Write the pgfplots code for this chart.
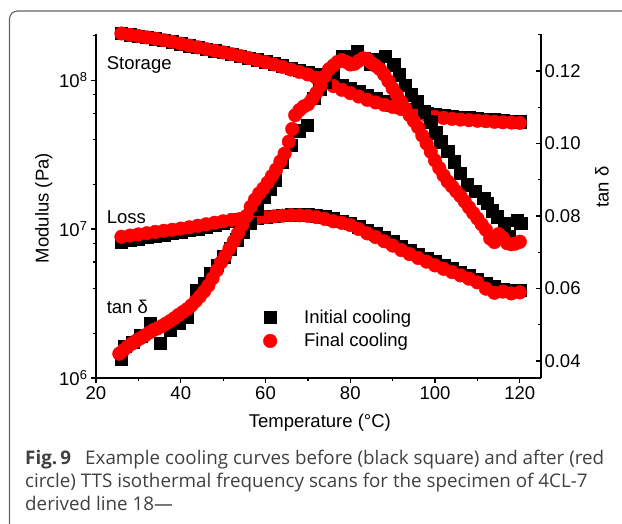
\documentclass[border=0pt]{standalone}
\usepackage{pgfplots}
\pgfplotsset{compat=1.18}
\usepackage{fontspec}
\setmainfont{Liberation Sans}
\newfontfamily\capfont{Open Sans}
\newcommand\fs{\fontsize{18.5}{22}\selectfont}
\definecolor{ptred}{RGB}{255,0,0}
\definecolor{framegray}{RGB}{100,100,100}
\definecolor{capgray}{RGB}{64,64,64}
\begin{document}
\begin{tikzpicture}[x=1pt,y=1pt]
\useasboundingbox (0,0) rectangle (622,523);
\draw[framegray, line width=1.1pt, rounded corners=8pt] (9.5,-5) -- (9.5,512) -- (630,512);
\begin{axis}[
  at={(96pt,145pt)}, anchor=south west,
  width=445pt, height=344pt, scale only axis,
  clip=false,
  xmin=20, xmax=125,
  ymode=log, ymin=1e6, ymax=2.04e8,
  axis x line*=bottom, axis y line*=left,
  axis line style={-, line width=1.2pt},
  tick align=outside,
  major tick length=5pt, minor tick length=3pt,
  every tick/.style={line width=1.2pt, black},
  xtick={20,40,60,80,100,120},
  minor xtick={30,50,70,90,110},
  ytick={1e6,1e7,1e8},
  yticklabels={10\textsuperscript{6},10\textsuperscript{7},10\textsuperscript{8}},
  minor ytick={2e6,4e6,6e6,8e6,2e7,4e7,6e7,8e7,2e8},
  tick label style={font=\fs},
  xticklabel style={/pgf/number format/assume math mode=true},
  label style={font=\fs},
  xlabel={Temperature (°C)},
  ylabel={Modulus (Pa)},
  xlabel style={at={(axis description cs:0.503,-0.145)}, anchor=base},
  ylabel style={at={(axis description cs:-0.117,0.494)}, anchor=center},
  legend style={draw=none, fill=none, at={(axis description cs:0.373,0.1424)}, anchor=west, font=\fs, row sep=6pt, inner sep=0pt, nodes={inner ysep=1.5pt}},
  legend cell align=left,
  legend image code/.code={\path[draw=none,fill=none] (0pt,0pt) rectangle (40pt,0pt); \draw[#1, only marks] plot coordinates {(8pt,0pt)};},
]
% black (initial) storage
\addplot[only marks, mark=square*, mark size=6.2pt, black, forget plot] table {
x y
26 2.056e8
28 2.014e8
30 1.977e8
32 1.936e8
34 1.897e8
36 1.853e8
38 1.807e8
40 1.758e8
42 1.706e8
44 1.660e8
46 1.614e8
48 1.574e8
50 1.535e8
52 1.493e8
54 1.452e8
56 1.406e8
58 1.368e8
60 1.330e8
62 1.291e8
64 1.250e8
66 1.205e8
68 1.169e8
70 1.132e8
72 1.084e8
74 1.035e8
76 9.772e7
78 9.268e7
80 8.852e7
82 8.356e7
84 7.907e7
86 7.499e7
88 7.144e7
90 6.854e7
92 6.577e7
94 6.354e7
96 6.166e7
98 5.998e7
100 5.874e7
102 5.795e7
104 5.728e7
106 5.662e7
108 5.610e7
110 5.533e7
112 5.470e7
114 5.407e7
116 5.333e7
118 5.296e7
120 5.248e7
};
% black (initial) loss
\addplot[only marks, mark=square*, mark size=6.2pt, black, forget plot] table {
x y
26 8.222e6
28 8.414e6
30 8.610e6
32 8.811e6
34 8.975e6
36 9.184e6
38 9.376e6
40 9.595e6
42 9.817e6
44 1.007e7
46 1.035e7
48 1.067e7
50 1.096e7
52 1.127e7
54 1.153e7
56 1.175e7
58 1.194e7
60 1.211e7
62 1.225e7
64 1.239e7
66 1.247e7
68 1.250e7
70 1.245e7
72 1.230e7
74 1.208e7
76 1.175e7
78 1.132e7
80 1.090e7
82 1.040e7
84 9.817e6
86 9.290e6
88 8.750e6
90 8.204e6
92 7.674e6
94 7.211e6
96 6.792e6
98 6.397e6
100 6.040e6
102 5.715e6
104 5.420e6
106 5.141e6
108 4.875e6
110 4.613e6
112 4.345e6
114 4.112e6
116 3.963e6
118 3.899e6
120 3.890e6
};
% red (final) storage
\addplot[only marks, mark=*, mark size=6.8pt, ptred, forget plot] table {
x y
26 2.056e8
28 2.014e8
30 1.977e8
32 1.936e8
34 1.897e8
36 1.853e8
38 1.807e8
40 1.758e8
42 1.706e8
44 1.660e8
46 1.614e8
48 1.574e8
50 1.535e8
52 1.493e8
54 1.452e8
56 1.406e8
58 1.361e8
60 1.318e8
62 1.274e8
64 1.227e8
66 1.178e8
68 1.135e8
70 1.091e8
72 1.035e8
74 9.772e7
76 9.120e7
78 8.610e7
80 8.185e7
82 7.762e7
84 7.379e7
86 7.079e7
88 6.823e7
90 6.607e7
92 6.397e7
94 6.166e7
96 5.971e7
98 5.795e7
100 5.649e7
102 5.572e7
104 5.495e7
106 5.433e7
108 5.383e7
110 5.333e7
112 5.296e7
114 5.248e7
116 5.212e7
118 5.188e7
120 5.164e7
};
% red (final) loss
\addplot[only marks, mark=*, mark size=6.8pt, ptred, forget plot] table {
x y
26 8.872e6
28 9.036e6
30 9.205e6
32 9.376e6
34 9.572e6
36 9.728e6
38 9.886e6
40 1.007e7
42 1.028e7
44 1.052e7
46 1.076e7
48 1.102e7
50 1.127e7
52 1.153e7
54 1.169e7
56 1.180e7
58 1.189e7
60 1.202e7
62 1.216e7
64 1.230e7
66 1.239e7
68 1.236e7
70 1.225e7
72 1.202e7
74 1.169e7
76 1.127e7
78 1.100e7
80 1.064e7
82 1.000e7
84 9.354e6
86 8.831e6
88 8.279e6
90 7.744e6
92 7.228e6
94 6.792e6
96 6.397e6
98 6.040e6
100 5.701e6
102 5.407e6
104 5.141e6
106 4.887e6
108 4.645e6
110 4.385e6
112 3.981e6
114 3.733e6
116 3.802e6
118 3.698e6
120 3.758e6
};
\addlegendimage{only marks, mark=square*, mark size=6.2pt, black}
\addlegendentry{Initial cooling}
\addlegendimage{only marks, mark=*, mark size=6.8pt, ptred}
\addlegendentry{Final cooling}
\node[font=\fs, anchor=base west, inner sep=0pt] at (axis cs:22.5,1.185e8) {Storage};
\node[font=\fs, anchor=base west, inner sep=0pt] at (axis cs:22.5,1.096e7) {Loss};
\node[font=\fs, anchor=base west, inner sep=0pt] at (axis cs:22.5,2.73e6) {tan δ};
\end{axis}
\begin{axis}[
  at={(96pt,145pt)}, anchor=south west,
  width=445pt, height=344pt, scale only axis,
  clip=false,
  xmin=20, xmax=125,
  ymin=0.0353, ymax=0.1302,
  axis x line=none, axis y line*=right,
  axis line style={-, line width=1.2pt},
  tick align=inside,
  major tick length=5pt, minor tick length=3pt,
  every tick/.style={line width=1.2pt, black},
  ytick={0.04,0.06,0.08,0.10,0.12},
  minor ytick={0.05,0.07,0.09,0.11,0.13},
  scaled y ticks=false,
  yticklabel style={font=\fs, /pgf/number format/.cd, fixed, fixed zerofill, precision=2, assume math mode=true},
  label style={font=\fs},
  ylabel={tan δ},
  ylabel style={at={(axis description cs:1.137,0.555)}, anchor=center},
]
% black (initial) tan delta
\addplot[only marks, mark=square*, mark size=6.2pt, black] table {
x y
26.0 0.0405
26.8 0.0440
28.7 0.0452
30.5 0.0470
32.8 0.0504
35.1 0.0449
37.5 0.0485
39.5 0.0505
41.4 0.0522
43.8 0.0596
45.5 0.0615
47.0 0.0642
48.6 0.0665
50.1 0.0688
51.7 0.0710
53.2 0.0734
54.8 0.0757
56.4 0.0780
58.0 0.0818
59.6 0.0853
61.0 0.0875
62.3 0.0900
64.0 0.0948
65.9 0.0996
67.8 0.1035
69.8 0.1051
71.4 0.1125
72.8 0.1150
74.1 0.1170
76.0 0.1205
78.1 0.1240
80.0 0.1240
81.6 0.1253
83.2 0.1235
84.8 0.1220
86.5 0.1232
88.3 0.1240
90.2 0.1217
91.6 0.1190
93.0 0.1160
94.4 0.1135
95.8 0.1115
97.4 0.1088
99.0 0.1060
100.2 0.1030
101.3 0.1005
103.0 0.0978
104.5 0.0950
106.0 0.0918
107.6 0.0886
109.5 0.0868
111.5 0.0849
112.3 0.0835
113.5 0.0815
114.7 0.0798
116.3 0.0780
117.5 0.0745
118.6 0.0728
119.4 0.0789
120.2 0.0780
};
% red (final) tan delta
\addplot[only marks, mark=*, mark size=6.8pt, ptred] table {
x y
25.5 0.0420
26.5 0.0430
27.5 0.0440
28.5 0.0448
29.5 0.0456
30.5 0.0463
31.5 0.0470
32.5 0.0478
33.5 0.0485
34.5 0.0490
35.5 0.0496
36.5 0.0503
37.5 0.0510
38.5 0.0518
39.5 0.0527
40.5 0.0535
41.5 0.0543
42.5 0.0553
43.5 0.0565
44.5 0.0578
45.5 0.0592
46.5 0.0608
47.5 0.0628
48.5 0.0650
49.5 0.0672
50.5 0.0690
51.5 0.0710
52.5 0.0730
53.5 0.0752
54.5 0.0775
55.5 0.0800
56.5 0.0825
57.5 0.0845
58.5 0.0862
59.5 0.0876
60.5 0.0892
61.5 0.0910
62.5 0.0928
63.5 0.0950
64.5 0.0972
65.5 0.1005
66.3 0.1040
67.0 0.1078
68.0 0.1092
69.0 0.1102
70.0 0.1108
71.0 0.1122
72.0 0.1140
73.0 0.1160
74.0 0.1185
75.0 0.1205
76.0 0.1215
77.0 0.1225
78.0 0.1230
79.0 0.1225
80.0 0.1218
81.0 0.1220
82.0 0.1228
83.0 0.1235
84.0 0.1233
85.0 0.1222
86.0 0.1214
87.0 0.1205
88.0 0.1190
89.0 0.1172
90.0 0.1152
91.0 0.1134
92.0 0.1115
93.0 0.1096
94.0 0.1078
95.0 0.1062
96.0 0.1045
97.0 0.1022
98.0 0.1000
99.0 0.0977
100.0 0.0953
101.0 0.0932
102.0 0.0912
103.0 0.0895
104.0 0.0882
105.0 0.0868
106.0 0.0855
107.0 0.0840
108.0 0.0824
109.0 0.0808
110.0 0.0793
111.0 0.0777
112.0 0.0762
113.0 0.0738
114.0 0.0728
115.0 0.0750
116.0 0.0740
117.0 0.0725
118.0 0.0722
119.0 0.0724
120.0 0.0729
};
\end{axis}
\node[anchor=base west, inner sep=0pt, align=left, text=capgray, font=\capfont\fontsize{18.8}{23}\selectfont] at (25,13)
{\textbf{Fig.\,9}\hspace{0.75em}Example cooling curves before (black square) and after (red\\
circle) TTS isothermal frequency scans for the specimen of 4CL-7\\
derived line 18—};
\end{tikzpicture}
\end{document}
